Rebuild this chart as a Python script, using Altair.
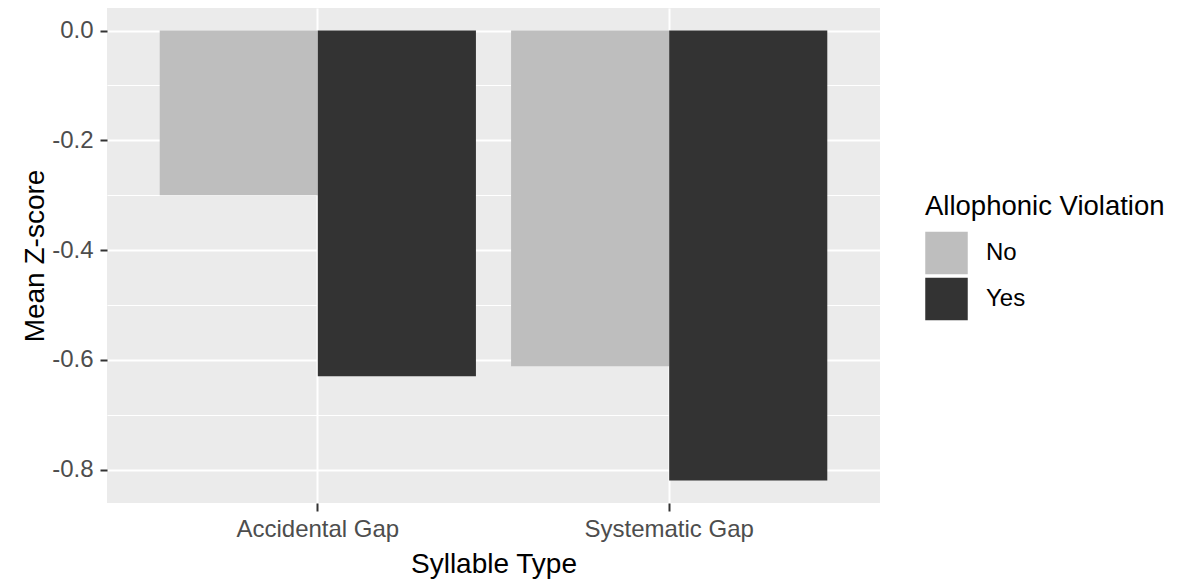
import altair as alt
import pandas as pd

categories = ["Accidental Gap", "Systematic Gap"]
violation = ["No", "Yes"]
mean_no = [-0.300, -0.612]
mean_yes = [-0.630, -0.820]
y_ticks = [0.0, -0.1, -0.2, -0.3, -0.4, -0.5, -0.6, -0.7, -0.8]
fill_colors = ["#bebebe", "#333333"]

rows = []
for cat, v_no, v_yes in zip(categories, mean_no, mean_yes):
    rows.append({"Syllable Type": cat, "Allophonic Violation": "No", "Mean Z-score": v_no})
    rows.append({"Syllable Type": cat, "Allophonic Violation": "Yes", "Mean Z-score": v_yes})
df = pd.DataFrame(rows)

minor_test = "round(abs(datum.value) * 10) % 2 == 1"
label_expr = (
    "round(abs(datum.value) * 10) % 2 == 1 ? '' : "
    "(datum.value < -0.001 ? '-' : '') + format(abs(datum.value), '.1f')"
)

chart = alt.Chart(df).mark_bar().encode(
    x=alt.X(
        "Syllable Type:N",
        sort=categories,
        scale=alt.Scale(paddingInner=0.1, paddingOuter=0.15),
        axis=alt.Axis(
            labelAngle=0, grid=True, bandPosition=0.5, gridColor="white", gridWidth=2,
            tickSize=8, tickWidth=2, tickColor="#333333", domain=False,
            labelFontSize=24, labelColor="#4d4d4d", labelPadding=6,
            titleFontSize=28, titleFontWeight="normal", titleColor="black", titlePadding=9,
        ),
    ),
    xOffset=alt.XOffset(
        "Allophonic Violation:N", sort=violation,
        scale=alt.Scale(paddingInner=0, paddingOuter=0),
    ),
    y=alt.Y(
        "Mean Z-score:Q",
        scale=alt.Scale(domain=[-0.861, 0.041], nice=False, zero=False),
        axis=alt.Axis(
            values=y_ticks, labelExpr=label_expr, grid=True, gridColor="white",
            gridWidth={"condition": {"test": minor_test, "value": 1}, "value": 2},
            tickOpacity={"condition": {"test": minor_test, "value": 0}, "value": 1},
            tickSize=7, tickWidth=2, tickColor="#333333", domain=False,
            labelFontSize=24, labelColor="#4d4d4d", labelPadding=7,
            titleFontSize=28, titleFontWeight="normal", titleColor="black", titlePadding=2,
        ),
    ),
    color=alt.Color(
        "Allophonic Violation:N",
        scale=alt.Scale(domain=violation, range=fill_colors),
        legend=alt.Legend(
            orient="none", legendX=818, legendY=185, padding=0,
            titleFontSize=27.5, titleFontWeight="normal", titleColor="black", titlePadding=11,
            titleLimit=400,
            labelFontSize=24, labelColor="black", labelOffset=18,
            symbolType="square", symbolSize=1806, symbolStrokeWidth=0, symbolOpacity=1,
            rowPadding=3,
        ),
    ),
).properties(
    width=773,
    height=495,
    autosize=alt.AutoSizeParams(type="none"),
    padding={"left": 99, "top": 0, "right": 290, "bottom": 76},
).configure(
    font="Liberation Sans",
).configure_view(
    fill="#ebebeb", stroke=None,
)

chart.save("out.html", embed_options={"renderer": "svg", "actions": False})
